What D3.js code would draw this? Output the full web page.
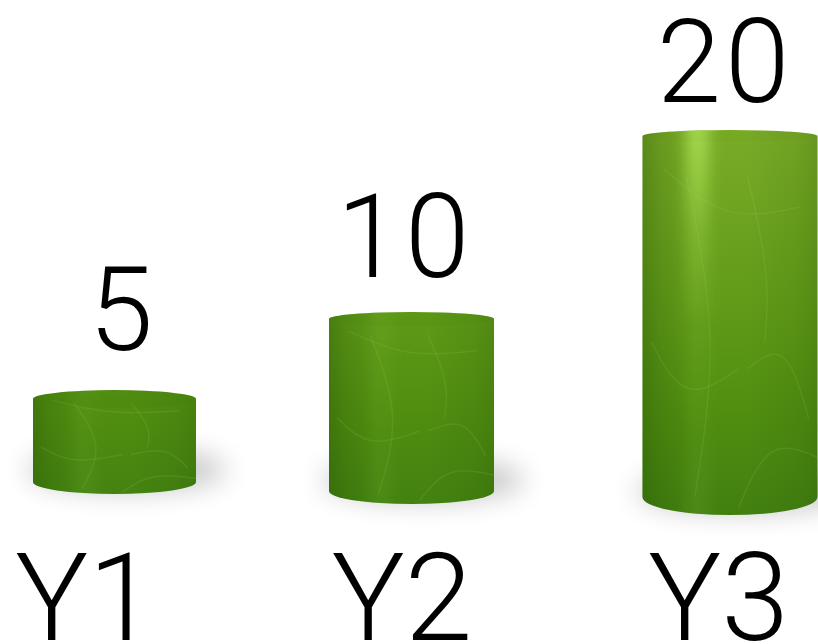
<!DOCTYPE html>
<html>
<head>
<meta charset="utf-8">
<script src="https://cdn.jsdelivr.net/npm/d3@7"></script>
<style>
  html, body { margin: 0; padding: 0; background: #fff; }
  svg { display: block; }
  text { font-family: Roboto, "Liberation Sans", sans-serif; font-weight: 300; fill: #000; }
</style>
</head>
<body>
<div id="chart"></div>
<script>
// Values
const categories = ["Y1", "Y2", "Y3"];
const values = [5, 10, 20];

const width = 818;
const height = 644;

const svg = d3.select("#chart")
  .append("svg")
  .attr("width", width)
  .attr("height", height);

// The cylinders stand in perspective: each one is placed on its own floor line
const xBar = d3.scaleOrdinal().domain(categories).range([114.5, 411.5, 730]);
const barWidth = d3.scaleOrdinal().domain(categories).range([163, 165, 175]);
const floorY = d3.scaleOrdinal().domain(categories).range([494, 504, 515]);
const topRy = d3.scaleOrdinal().domain(categories).range([9, 7, 6]);
const bottomRy = d3.scaleOrdinal().domain(categories).range([12, 13, 18]);
const capOpacity = d3.scaleOrdinal().domain(categories).range([0.16, 0.1, 0.03]);
const barHeight = d3.scaleLinear().domain([5, 10, 20]).range([104, 192, 385]);
const xLabel = d3.scalePoint().domain(categories).range([85, 718]);
const xValue = d3.scaleOrdinal().domain(categories).range([123, 405, 725]);
const valueGap = d3.scaleOrdinal().domain(categories).range([40, 35, 28]);

const rows = categories.map((c, i) => ({ cat: c, value: values[i] }));

const defs = svg.append("defs");

defs.append("filter").attr("id", "soft")
  .attr("x", "-40%").attr("y", "-150%").attr("width", "180%").attr("height", "400%")
  .append("feGaussianBlur").attr("stdDeviation", 14);

// Body colour follows page height, so taller bars get lighter at the top
const body = defs.append("linearGradient").attr("id", "body")
  .attr("gradientUnits", "userSpaceOnUse")
  .attr("x1", 0).attr("x2", 0).attr("y1", 130).attr("y2", 515);
body.append("stop").attr("offset", 0).attr("stop-color", "#7aab27");
body.append("stop").attr("offset", 0.45).attr("stop-color", "#619b18");
body.append("stop").attr("offset", 0.75).attr("stop-color", "#4f8d10");
body.append("stop").attr("offset", 1).attr("stop-color", "#418010");

const sides = defs.append("linearGradient").attr("id", "sides");
[[0, 0.34], [0.1, 0.18], [0.3, 0], [0.6, 0], [0.88, 0.1], [1, 0.2]].forEach(s => {
  sides.append("stop").attr("offset", s[0]).attr("stop-color", "#1f4a00").attr("stop-opacity", s[1]);
});

// Highlight strip, strongest near the top of the tall bar
const shine = defs.append("linearGradient").attr("id", "shine")
  .attr("gradientUnits", "userSpaceOnUse")
  .attr("x1", 0).attr("x2", 0).attr("y1", 130).attr("y2", 515);
shine.append("stop").attr("offset", 0).attr("stop-color", "#a6dc50").attr("stop-opacity", 0.95);
shine.append("stop").attr("offset", 0.25).attr("stop-color", "#a6dc50").attr("stop-opacity", 0.35);
shine.append("stop").attr("offset", 0.5).attr("stop-color", "#a6dc50").attr("stop-opacity", 0.08);
shine.append("stop").attr("offset", 0.8).attr("stop-color", "#a6dc50").attr("stop-opacity", 0.04);
shine.append("stop").attr("offset", 1).attr("stop-color", "#a6dc50").attr("stop-opacity", 0.1);

defs.append("filter").attr("id", "shineBlur")
  .attr("x", "-100%").attr("width", "300%")
  .append("feGaussianBlur").attr("stdDeviation", "7 2");

// Faint leaf veins on the bars, as fractions of the bar box
const veins = [
  [[0.12, 0.1], [0.45, 0.3], [0.9, 0.2]],
  [[0.25, 0.12], [0.55, 0.55], [0.3, 0.95]],
  [[0.6, 0.62], [0.85, 0.45], [0.95, 0.75]],
  [[0.05, 0.55], [0.2, 0.8], [0.55, 0.62]],
  [[0.6, 0.12], [0.78, 0.4], [0.7, 0.55]],
  [[0.55, 0.98], [0.68, 0.72], [1, 0.85]]
];

function cylinder(d) {
  const w = barWidth(d.cat) / 2, x = xBar(d.cat);
  const rt = topRy(d.cat), rb = bottomRy(d.cat);
  const bottom = floorY(d.cat), top = bottom - barHeight(d.value);
  return `M${x - w},${top + rt}A${w},${rt} 0 0 1 ${x + w},${top + rt}` +
    `L${x + w},${bottom - rb}A${w},${rb} 0 0 1 ${x - w},${bottom - rb}Z`;
}

// Soft floor shadows
svg.append("g").selectAll("ellipse")
  .data(rows)
  .enter()
  .append("ellipse")
  .attr("cx", d => xBar(d.cat) + 12)
  .attr("cy", d => floorY(d.cat) - 24)
  .attr("rx", d => barWidth(d.cat) / 2 + 18)
  .attr("ry", 20)
  .attr("fill", "#000")
  .attr("opacity", 0.24)
  .attr("filter", "url(#soft)");

const bars = svg.append("g").selectAll("g")
  .data(rows)
  .enter()
  .append("g");

rows.forEach((d, i) => {
  defs.append("clipPath").attr("id", "clip" + i)
    .append("path").attr("d", cylinder(d));
});

bars.append("path")
  .attr("d", cylinder)
  .attr("fill", "url(#body)");

bars.append("path")
  .attr("d", cylinder)
  .attr("fill", "url(#sides)");

// Everything inside the cylinder outline
const inner = bars.append("g")
  .attr("clip-path", (d, i) => `url(#clip${i})`);

inner.append("rect")
  .attr("x", d => xBar(d.cat) - barWidth(d.cat) * 0.25)
  .attr("y", d => floorY(d.cat) - barHeight(d.value) - 5)
  .attr("width", d => barWidth(d.cat) * 0.13)
  .attr("height", d => barHeight(d.value) + 10)
  .attr("fill", "url(#shine)")
  .attr("filter", "url(#shineBlur)");

const veinLine = d3.line().curve(d3.curveBundle.beta(0.6));
inner.selectAll("path.vein")
  .data(d => veins.map(v => v.map(p => [
    xBar(d.cat) - barWidth(d.cat) / 2 + p[0] * barWidth(d.cat),
    floorY(d.cat) - barHeight(d.value) + p[1] * barHeight(d.value)
  ])))
  .enter()
  .append("path")
  .attr("class", "vein")
  .attr("d", veinLine)
  .attr("fill", "none")
  .attr("stroke", "#a8d870")
  .attr("stroke-opacity", 0.13)
  .attr("stroke-width", 1.5);

// Top cap, a little darker than the body on the short bars
inner.append("ellipse")
  .attr("cx", d => xBar(d.cat))
  .attr("cy", d => floorY(d.cat) - barHeight(d.value) + topRy(d.cat))
  .attr("rx", d => barWidth(d.cat) / 2)
  .attr("ry", d => topRy(d.cat))
  .attr("fill", "#3f7c0c")
  .attr("opacity", d => capOpacity(d.cat));

// Value labels above the bars
svg.append("g").selectAll("text")
  .data(rows)
  .enter()
  .append("text")
  .attr("x", d => xValue(d.cat))
  .attr("y", d => floorY(d.cat) - barHeight(d.value) - valueGap(d.cat))
  .attr("text-anchor", "middle")
  .attr("font-size", 116)
  .attr("letter-spacing", 4)
  .text(d => d.value);

// Category axis, labels only
const axis = svg.append("g")
  .attr("transform", "translate(0,553)")
  .call(d3.axisBottom(xLabel).tickSize(0).tickPadding(0));
axis.select(".domain").remove();
axis.selectAll("text")
  .attr("font-size", 122)
  .style("fill", "#000")
  .style("font-family", "Roboto, 'Liberation Sans', sans-serif")
  .style("font-weight", 300);
</script>
</body>
</html>
